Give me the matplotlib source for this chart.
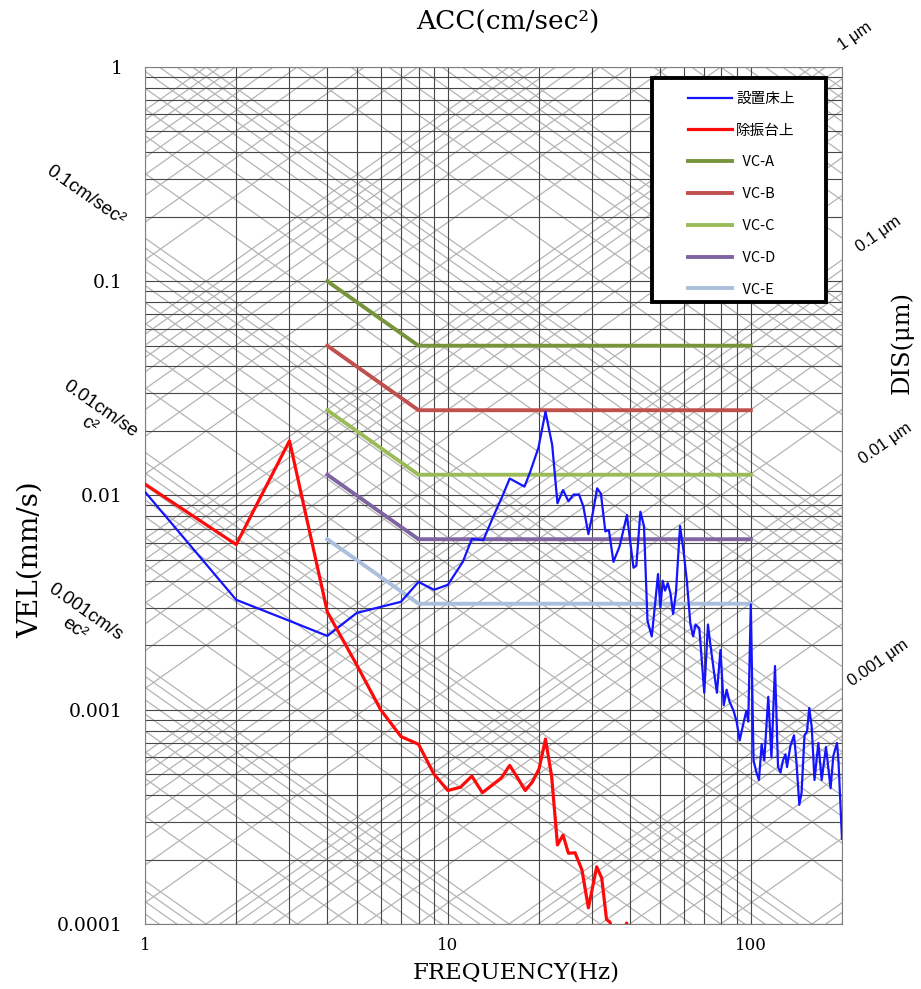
import numpy as np
import matplotlib
matplotlib.use('Agg')
import matplotlib.pyplot as plt
from matplotlib.patches import Rectangle
from matplotlib.ticker import FixedLocator, FixedFormatter, NullFormatter

# ---- data ----
blue_freq = [1.0, 2.0, 3.0, 4.0, 5.0, 6.0, 7.0, 8.0, 9.0, 10.0,
             11.2, 12.0, 13.1, 14.2, 15.1, 16.0, 17.9, 18.7, 19.9, 21.0,
             22.1, 23.0, 24.0, 25.0, 26.0, 27.1, 28.0, 29.1, 30.1, 31.1,
             32.0, 33.1, 34.0, 35.2, 36.9, 39.0, 41.0, 41.9, 43.2, 44.4,
             45.6, 47.1, 48.3, 49.4, 50.3, 51.2, 52.1, 53.2, 54.3, 55.4,
             56.6, 58.4, 59.9, 61.5, 63.2, 64.5, 65.7, 67.6, 68.9, 70.2,
             72.2, 73.6, 75.6, 77.3, 79.4, 81.4, 83.2, 85.1, 87.7, 89.8,
             91.9, 94.3, 96.7, 98.1, 100.0, 102.1, 104.4, 106.4, 108.6, 110.8,
             114.2, 117.0, 120.2, 123.0, 125.3, 127.7, 130.2, 131.7, 135.2, 138.9,
             141.5, 144.6, 147.1, 150.4, 153.3, 156.0, 158.9, 162.3, 167.1, 171.4,
             177.1, 183.4, 187.3, 192.6, 194.8, 200.0]
blue_vel = [0.0104, 0.00326, 0.0026, 0.00221, 0.00283, 0.00302, 0.00319, 0.00395, 0.00363, 0.00383,
            0.0049, 0.00627, 0.0062, 0.00812, 0.00985, 0.0120, 0.0110, 0.0129, 0.0167, 0.0246,
            0.0172, 0.0092, 0.0106, 0.0094, 0.0101, 0.0101, 0.0089, 0.0066, 0.0083, 0.0108,
            0.0102, 0.0068, 0.0069, 0.0049, 0.0058, 0.0081, 0.0046, 0.0047, 0.0084, 0.0072,
            0.0026, 0.0022, 0.0031, 0.0043, 0.0030, 0.0040, 0.0036, 0.0039, 0.0035, 0.0028,
            0.0035, 0.0072, 0.0056, 0.0040, 0.0025, 0.0022, 0.0025, 0.0024, 0.0017, 0.0012,
            0.0025, 0.0020, 0.0015, 0.0012, 0.0019, 0.00105, 0.00124, 0.00109, 0.00099, 0.00088,
            0.00072, 0.00085, 0.00099, 0.00088, 0.0031, 0.00058, 0.00051, 0.00047, 0.00069, 0.00058,
            0.00115, 0.0006, 0.0016, 0.00054, 0.00051, 0.00058, 0.00062, 0.00054, 0.00068, 0.00076,
            0.00057, 0.00036, 0.00041, 0.00076, 0.00079, 0.00102, 0.00083, 0.00047, 0.0007, 0.00047,
            0.00067, 0.00043, 0.00061, 0.0007, 0.00057, 0.00025]

red_freq = [1, 2, 3, 4, 5, 6, 7, 8, 9, 10, 11, 12, 13, 14, 15, 16, 17, 18, 19, 20,
            21, 22, 23, 24, 25, 26.3, 27.7, 29.1, 31.0, 32.2, 33.4, 34.3, 35.5, 37.0, 38.9,
            40.5, 43.0]
red_vel = [0.0113, 0.0059, 0.0180, 0.00286, 0.00162, 0.00100, 0.00075, 0.00069, 0.00050, 0.00042,
           0.000435, 0.00049, 0.00041, 0.000445, 0.00048, 0.00055, 0.00048, 0.00042, 0.00046, 0.00053,
           0.00073, 0.00049, 0.000234, 0.00026, 0.000214, 0.000215, 0.000179, 0.000119, 0.000185,
           0.000164, 0.000105, 0.000102, 0.00008, 0.00007, 0.000101, 0.00008, 0.00006]

vc_freq = [4, 8, 100]
vc_a = [0.1, 0.05, 0.05]
vc_b = [0.05, 0.025, 0.025]
vc_c = [0.025, 0.0125, 0.0125]
vc_d = [0.0125, 0.00625, 0.00625]
vc_e = [0.00625, 0.003125, 0.003125]

y_ticks = [1e-4, 1e-3, 1e-2, 1e-1, 1]
y_labels = ['0.0001', '0.001', '0.01', '0.1', '1']
x_ticks = [1, 10, 100]
x_labels = ['1', '10', '100']

acc_labels = [(1.0, '0.1cm/sec²', 0.634), (0.1, '0.01cm/se\nc²', 0.684), (0.01, '0.001cm/s\nec²', 0.61)]  # mm/s^2
dis_labels = [(1e-3, '1 μm', 221), (1e-4, '0.1 μm', 265), (1e-5, '0.01 μm', 278), (1e-6, '0.001 μm', 263)]  # mm

assert len(blue_freq) == len(blue_vel)
assert len(red_freq) == len(red_vel)

fig = plt.figure(figsize=(9.21, 9.89), dpi=100)
ax = fig.add_axes([0.1574, 0.0657, 0.7568, 0.8666])
ax.set_xscale('log')
ax.set_yscale('log')

# tripartite diagonals
mant = np.arange(1, 10)
fl = np.array([0.3, 600.0])
for e in range(-4, 4):
    for m in mant:
        a = m * 10.0 ** e
        ax.plot(fl, a / (2 * np.pi * fl), color='#b4b4b4', lw=0.9, zorder=0.5)
for e in range(-8, 0):
    for m in mant:
        d = m * 10.0 ** e
        ax.plot(fl, 2 * np.pi * fl * d, color='#b4b4b4', lw=0.9, zorder=0.5)

ax.plot(blue_freq, blue_vel, color='#1414ff', lw=1.6, label='設置床上', zorder=4)
ax.plot(red_freq, red_vel, color='#ff0a0a', lw=2.3, label='除振台上', zorder=4)
ax.plot(vc_freq, vc_a, color='#77933C', lw=2.8, label='  VC-A', zorder=3)
ax.plot(vc_freq, vc_b, color='#C0504D', lw=2.8, label='  VC-B', zorder=3)
ax.plot(vc_freq, vc_c, color='#9BBB59', lw=2.8, label='  VC-C', zorder=3)
ax.plot(vc_freq, vc_d, color='#8064A2', lw=2.8, label='  VC-D', zorder=3)
ax.plot(vc_freq, vc_e, color='#A9BFDC', lw=2.8, label='  VC-E', zorder=3)

ax.set_xlim(1, 200)
ax.set_ylim(1e-4, 1)
ax.grid(True, which='both', color='#474747', lw=0.8, zorder=1)
ax.set_axisbelow(True)
ax.tick_params(which='both', length=0)
ax.yaxis.set_major_locator(FixedLocator(y_ticks))
ax.yaxis.set_major_formatter(FixedFormatter(y_labels))
ax.xaxis.set_major_locator(FixedLocator(x_ticks))
ax.xaxis.set_major_formatter(FixedFormatter(x_labels))
ax.xaxis.set_minor_formatter(NullFormatter())
ax.yaxis.set_minor_formatter(NullFormatter())
ax.tick_params(axis='y', pad=16, labelsize=13.5)
ax.tick_params(axis='x', pad=9, labelsize=12)
for t in ax.get_xticklabels() + ax.get_yticklabels():
    t.set_family('DejaVu Serif')
for s in ax.spines.values():
    s.set_color('#808080')

for a, txt, f in acc_labels:
    ax.text(f, a / (2 * np.pi * f), txt, rotation=-35, ha='center', va='center',
            multialignment='center', family='Liberation Sans', fontsize=13.5,
            clip_on=False)
for d, txt, f in dis_labels:
    ax.text(f, 2 * np.pi * f * d, txt, rotation=35, ha='center', va='center',
            family='Liberation Sans', fontsize=12, clip_on=False)

fig.text(508 / 921, 1 - 22 / 989, 'ACC(cm/sec²)', ha='center', va='center',
         family='DejaVu Serif', fontsize=19)
fig.text(516 / 921, 1 - 972 / 989, 'FREQUENCY(Hz)', ha='center', va='center',
         family='DejaVu Serif', fontsize=16.5)
fig.text(30 / 921, 1 - 560 / 989, 'VEL(mm/s)', ha='center', va='center', rotation=90,
         family='DejaVu Serif', fontsize=20)
fig.text(902 / 921, 1 - 343 / 989, 'DIS(μm)', ha='center', va='center', rotation=90,
         family='DejaVu Serif', fontsize=17.5)

# legend box drawn separately so its size matches the reference
ax.add_patch(Rectangle((0.727, 0.726), 0.25, 0.261, transform=ax.transAxes,
                       facecolor='white', edgecolor='black', lw=2.8, zorder=9))
leg = ax.legend(loc='upper left', bbox_to_anchor=(0.779, 0.971), frameon=False,
                prop={'family': ['Noto Sans CJK JP', 'DejaVu Sans'], 'size': 10.5},
                labelspacing=1.22, handlelength=3.0, borderpad=0, handletextpad=0.3,
                borderaxespad=0)
leg.set_zorder(10)

fig.savefig('out.png', dpi=100, facecolor='white')
